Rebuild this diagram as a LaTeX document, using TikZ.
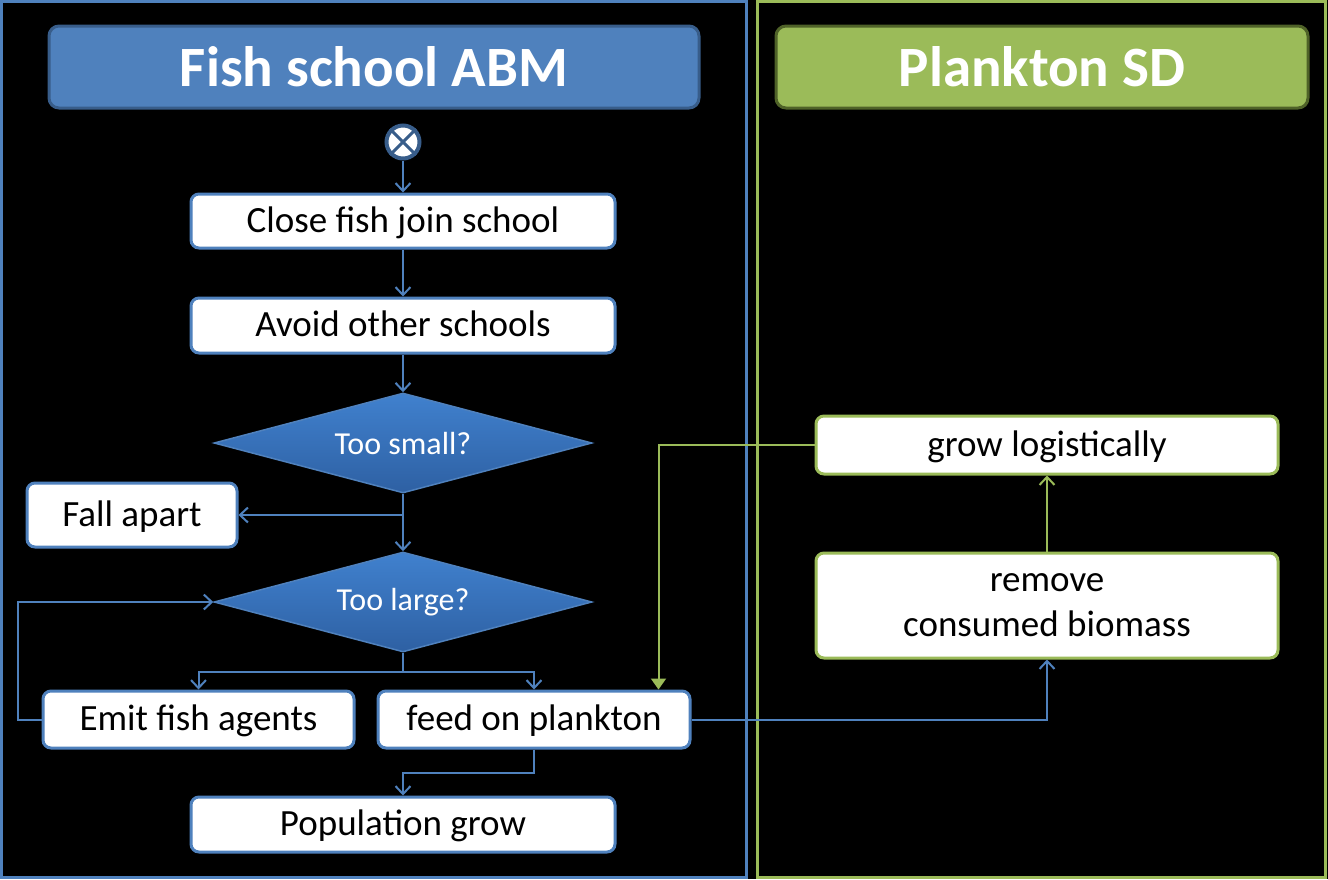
\documentclass[tikz,border=0pt]{standalone}
\usepackage{fontspec}
\setmainfont{Carlito}
\usetikzlibrary{arrows.meta,shapes.geometric}
\definecolor{fishblue}{RGB}{79,129,189}
\definecolor{fishdark}{RGB}{56,93,138}
\definecolor{plankgreen}{RGB}{155,187,89}
\definecolor{plankdark}{RGB}{79,98,40}
\begin{document}
\begin{tikzpicture}[x=1pt, y=-1pt,
    box/.style={draw=fishblue, line width=3pt, fill=white, rounded corners=8pt,
      inner sep=0pt, font=\fontsize{37}{45}\selectfont},
    onebox/.style={box, text height=25pt, text depth=3pt},
    header/.style={line width=3pt, rounded corners=10pt, inner sep=0pt,
      text=white, font=\fontsize{57}{60}\selectfont\bfseries},
    decide/.style={diamond, aspect=3.78, draw=fishblue, line width=1.5pt,
      top color={rgb,255:red,64;green,129;blue,206}, bottom color={rgb,255:red,46;green,96;blue,163},
      inner sep=0pt, minimum width=378, minimum height=100,
      text=white, font=\fontsize{32}{36}\selectfont},
    con/.style={draw=fishblue, line width=2pt, -{Straight Barb[length=8pt,width=15pt]}},
    gcon/.style={con, draw=plankgreen}]
  % background and the two panels
  \fill[black] (0,0) rectangle (1328,879);
  \draw[fishblue, line width=3pt] (1.5,1.5) rectangle (746,877.5);
  \draw[plankgreen, line width=3pt] (757.5,1.5) rectangle (1325.5,877.5);

  \node[header, draw=fishdark, fill=fishblue, minimum width=650, minimum height=82] (abm) at (374,67) {Fish school ABM};
  \node[header, draw=plankdark, fill=plankgreen, minimum width=532, minimum height=82] (sd) at (1042,67) {Plankton SD};

  % fish school flow
  \node[circle, draw=fishdark, line width=4pt, fill=white, minimum size=33, inner sep=0pt] (start) at (403,142) {};
  \draw[fishdark, line width=3pt] (start.north west) -- (start.south east) (start.north east) -- (start.south west);
  \node[onebox, minimum width=424, minimum height=54] (close) at (403,221) {Close fish join school};
  \node[onebox, minimum width=424, minimum height=55] (avoid) at (403,325.5) {Avoid other schools};
  \node[decide] (small) at (403,443) {Too small?};
  \node[onebox, minimum width=210, minimum height=64] (fall) at (132,515) {Fall apart};
  \node[decide] (large) at (403,602) {Too large?};
  \node[onebox, minimum width=311, minimum height=57] (emit) at (198.5,719.5) {Emit fish agents};
  \node[onebox, minimum width=312, minimum height=57] (feed) at (534,719.5) {feed on plankton};
  \node[onebox, minimum width=424, minimum height=55] (pop) at (403,824.5) {Population grow};

  % plankton flow
  \node[onebox, draw=plankgreen, minimum width=462, minimum height=58] (grow) at (1047,445) {grow logistically};
  \node[box, draw=plankgreen, minimum width=462, minimum height=105, align=center] (remove) at (1047,605.5) {remove\\consumed biomass};

  \draw[con] (start.south) -- (close.north);
  \draw[con] (close.south) -- (avoid.north);
  \draw[con] (avoid.south) -- (small.north);
  \draw[con] (small.south) -- (large.north);
  \draw[con] (small.south |- fall.east) -- (fall.east);
  \draw[con] (large.south) -- ++(0,19) -| (emit.north);
  \draw[con] (large.south) -- ++(0,19) -| (feed.north);
  \draw[con] (emit.west) -- ++(-24,0) |- (large.west);
  \draw[con] (feed.south) -- ++(0,23) -| (pop.north);
  \draw[con] (feed.east) -| (remove.south);
  \draw[gcon] (remove.north) -- (grow.south);
  \draw[gcon, -{Triangle[length=11pt,width=15pt]}] (grow.west) -| ([xshift=-33pt]feed.north east);
\end{tikzpicture}
\end{document}
